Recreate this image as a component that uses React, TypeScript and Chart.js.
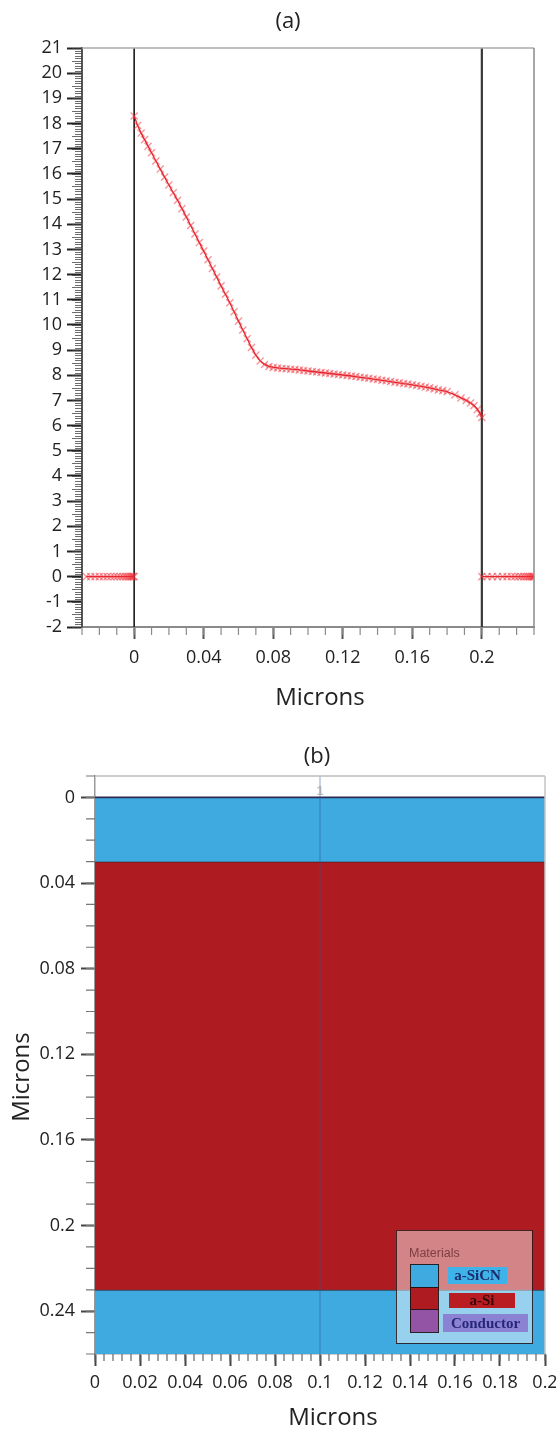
import React, { useEffect, useRef } from 'react';
import { Chart, registerables } from 'chart.js';

Chart.register(...registerables);

const FONT = "'Open Sans', 'Noto Sans', sans-serif";
const SERIF = "'Liberation Serif', 'DejaVu Serif', serif";
const SANS = "'Liberation Sans', Arial, sans-serif";

// ---------------- Panel (a) data ----------------
const A_TITLE = '(a)';
const A_X_TITLE = 'Microns';
const A_X_TICKS = [0, 0.04, 0.08, 0.12, 0.16, 0.2];
const A_Y_TICKS = [-2, -1, 0, 1, 2, 3, 4, 5, 6, 7, 8, 9, 10, 11, 12, 13, 14, 15, 16, 17, 18, 19, 20, 21];
const A_INTERFACES = [0, 0.2];
const A_LEFT_X = [-0.0275, -0.025, -0.0225, -0.02, -0.0177, -0.0155, -0.0135, -0.0115, -0.0097, -0.008, -0.0065, -0.0051, -0.0039, -0.0028, -0.0019, -0.0011, -0.0005, 0];
const A_LEFT_Y = [0, 0, 0, 0, 0, 0, 0, 0, 0, 0, 0, 0, 0, 0, 0, 0, 0, 0];
const A_RIGHT_X = [0.2, 0.203, 0.206, 0.209, 0.212, 0.2145, 0.217, 0.219, 0.221, 0.2225, 0.224, 0.2253, 0.2265, 0.2275, 0.2284, 0.2292, 0.2298, 0.23];
const A_RIGHT_Y = [0, 0, 0, 0, 0, 0, 0, 0, 0, 0, 0, 0, 0, 0, 0, 0, 0, 0];
// [x (microns), value]
const A_CURVE: [number, number][] = [
  [0, 18.3], [0.002, 17.92], [0.004, 17.62], [0.006, 17.36], [0.008, 17.1], [0.01, 16.84],
  [0.0125, 16.51], [0.015, 16.19], [0.0175, 15.87], [0.02, 15.56], [0.0225, 15.25], [0.025, 14.95],
  [0.0275, 14.62], [0.03, 14.29], [0.0325, 13.95], [0.035, 13.61], [0.0375, 13.27], [0.04, 12.93],
  [0.0425, 12.59], [0.045, 12.24], [0.0475, 11.9], [0.05, 11.55], [0.0525, 11.22], [0.055, 10.88],
  [0.0575, 10.52], [0.06, 10.15], [0.0625, 9.8], [0.065, 9.45], [0.0675, 9.1], [0.07, 8.8],
  [0.0725, 8.57], [0.075, 8.43], [0.0775, 8.35], [0.08, 8.31], [0.0825, 8.29], [0.085, 8.27],
  [0.0875, 8.26], [0.09, 8.24], [0.0925, 8.23], [0.095, 8.21], [0.0975, 8.19], [0.1, 8.17],
  [0.1025, 8.15], [0.105, 8.13], [0.1075, 8.11], [0.11, 8.09], [0.1125, 8.07], [0.115, 8.05],
  [0.1175, 8.03], [0.12, 8.01], [0.1225, 7.99], [0.125, 7.97], [0.1275, 7.95], [0.13, 7.92],
  [0.1325, 7.9], [0.135, 7.88], [0.1375, 7.85], [0.14, 7.83], [0.1425, 7.8], [0.145, 7.78],
  [0.1475, 7.75], [0.15, 7.72], [0.1525, 7.7], [0.155, 7.67], [0.1575, 7.65], [0.16, 7.62],
  [0.1625, 7.59], [0.165, 7.56], [0.1675, 7.53], [0.17, 7.5], [0.1725, 7.46], [0.175, 7.42],
  [0.1775, 7.39], [0.18, 7.35], [0.1845, 7.22], [0.188, 7.1], [0.191, 7.0], [0.1935, 6.9],
  [0.1955, 6.8], [0.1975, 6.64], [0.199, 6.48], [0.2, 6.32],
];

// ---------------- Panel (b) data ----------------
const B_TITLE = '(b)';
const B_AXIS_TITLE = 'Microns';
const B_X_TICKS = [0, 0.02, 0.04, 0.06, 0.08, 0.1, 0.12, 0.14, 0.16, 0.18, 0.2];
const B_Y_TICKS = [0, 0.04, 0.08, 0.12, 0.16, 0.2, 0.24];
const B_X_RANGE = [0, 0.2];
const B_BOUNDARIES = [0, 0.03, 0.23, 0.26];
const B_LAYERS = ['a-SiCN', 'a-Si', 'a-SiCN'];
const B_CUTLINE_X = 0.1;
const B_CUTLINE_LABEL = '1';
const MATERIALS = ['a-SiCN', 'a-Si', 'Conductor'];
const MATERIAL_COLORS = ['#3faae0', '#ae1c22', '#9354a6'];
const MATERIAL_LABEL_BG = ['#3db3ea', '#b91d22', '#8b82d3'];
const MATERIAL_LABEL_FG = ['#1b2d6b', '#3a0808', '#27277a'];
const LEGEND_TITLE = 'Materials';

const matColor = (m: string) => MATERIAL_COLORS[MATERIALS.indexOf(m)];

function pts(xs: number[], ys: number[]) {
  return xs.map((x, i) => ({ x, y: ys[i] }));
}

const markerDs = (data: { x: number; y: number }[]) => ({
  data,
  borderColor: 'rgba(226,22,30,0.95)',
  borderWidth: 1.3,
  pointStyle: 'crossRot',
  pointRadius: 5,
  pointBorderWidth: 1.4,
  pointBorderColor: 'rgba(240,45,55,0.5)',
  pointBackgroundColor: 'rgba(0,0,0,0)',
  fill: false,
  tension: 0,
});

function noEdgePadding(s: any) {
  s.paddingLeft = 0; s.paddingRight = 0; s.paddingTop = 0; s.paddingBottom = 0;
}

const aDecor = {
  id: 'aDecor',
  afterDraw(chart: any) {
    const { ctx, chartArea: ca, scales } = chart;
    const x = scales.x, y = scales.y;
    ctx.save();
    ctx.lineWidth = 1.5;
    ctx.strokeStyle = '#aaaaaa';
    ctx.beginPath(); ctx.moveTo(ca.left, ca.top); ctx.lineTo(ca.right, ca.top); ctx.stroke();
    ctx.strokeStyle = '#8a8a8a';
    ctx.beginPath(); ctx.moveTo(ca.right, ca.top); ctx.lineTo(ca.right, ca.bottom); ctx.stroke();
    // minor x ticks
    ctx.strokeStyle = '#8a8a8a'; ctx.lineWidth = 1.2;
    ctx.beginPath();
    for (let k = -3; k <= 23; k++) {
      const px = x.getPixelForValue(k / 100);
      ctx.moveTo(px, ca.bottom); ctx.lineTo(px, ca.bottom + 8);
    }
    ctx.stroke();
    // dense minor y ticks
    ctx.strokeStyle = 'rgba(60,60,60,0.75)'; ctx.lineWidth = 1;
    ctx.beginPath();
    for (let k = -20; k <= 210; k++) {
      const py = Math.round(y.getPixelForValue(k / 10)) + 0.5;
      const len = k % 5 === 0 ? 10 : 7;
      ctx.moveTo(ca.left - len, py); ctx.lineTo(ca.left, py);
    }
    ctx.stroke();
    // titles
    ctx.fillStyle = '#222';
    ctx.textAlign = 'center'; ctx.textBaseline = 'middle';
    ctx.font = `22px ${FONT}`;
    ctx.fillText(A_TITLE, 288, 22);
    ctx.font = `24px ${FONT}`;
    ctx.fillText(A_X_TITLE, 320, 698);
    ctx.restore();
  },
};

const bDecor = {
  id: 'bDecor',
  afterDraw(chart: any) {
    const { ctx, chartArea: ca, scales } = chart;
    const x = scales.x, y = scales.y;
    ctx.save();
    ctx.lineWidth = 1.5;
    ctx.strokeStyle = '#bbbbbb';
    ctx.beginPath(); ctx.moveTo(ca.left, ca.top); ctx.lineTo(ca.right, ca.top); ctx.stroke();
    ctx.strokeStyle = '#c4c4c4';
    ctx.beginPath(); ctx.moveTo(ca.right, ca.top); ctx.lineTo(ca.right, ca.bottom); ctx.stroke();
    // minor x ticks
    ctx.strokeStyle = '#666'; ctx.lineWidth = 1.2;
    ctx.beginPath();
    for (let k = 0; k <= 50; k++) {
      const px = x.getPixelForValue(k * 0.004);
      ctx.moveTo(px, ca.bottom); ctx.lineTo(px, ca.bottom + 7);
    }
    ctx.stroke();
    // minor y ticks
    ctx.strokeStyle = '#777'; ctx.lineWidth = 1.2;
    ctx.beginPath();
    for (let k = -1; k <= 26; k++) {
      const py = y.getPixelForValue(k / 100);
      ctx.moveTo(ca.left - 9, py); ctx.lineTo(ca.left, py);
    }
    ctx.stroke();
    // cut-line label
    ctx.fillStyle = 'rgba(150,150,150,0.6)';
    ctx.font = `bold 13px ${SANS}`;
    ctx.textAlign = 'center'; ctx.textBaseline = 'middle';
    ctx.fillText(B_CUTLINE_LABEL, x.getPixelForValue(B_CUTLINE_X), y.getPixelForValue(-0.003));
    // legend
    const L = ca.right - 149, T = ca.bottom - 124, W = 136, H = 113;
    ctx.fillStyle = 'rgba(255,255,255,0.46)';
    ctx.fillRect(L, T, W, H);
    ctx.strokeStyle = 'rgba(40,20,20,0.85)'; ctx.lineWidth = 1;
    ctx.strokeRect(L + 0.5, T + 0.5, W, H);
    ctx.fillStyle = 'rgba(110,50,50,0.85)';
    ctx.font = `12.5px ${SANS}`;
    ctx.textAlign = 'left';
    ctx.fillText(LEGEND_TITLE, L + 13, T + 24);
    const sw = [[34, 57], [57, 79], [79, 102]];
    const boxes = [[52, 37, 59, 17], [53, 63, 66, 15], [47, 84, 85, 18]];
    MATERIALS.forEach((m, i) => {
      ctx.fillStyle = MATERIAL_COLORS[i];
      ctx.fillRect(L + 14, T + sw[i][0], 28, sw[i][1] - sw[i][0]);
      ctx.strokeStyle = 'rgba(30,15,15,0.9)';
      ctx.strokeRect(L + 14.5, T + sw[i][0] + 0.5, 28, sw[i][1] - sw[i][0]);
      const [bx, by, bw, bh] = boxes[i];
      ctx.fillStyle = MATERIAL_LABEL_BG[i];
      ctx.fillRect(L + bx, T + by, bw, bh);
      ctx.fillStyle = MATERIAL_LABEL_FG[i];
      ctx.font = `bold 15px ${SERIF}`;
      ctx.textAlign = 'center';
      ctx.fillText(m, L + bx + bw / 2, T + by + bh / 2 + 1);
    });
    // titles
    ctx.fillStyle = '#222';
    ctx.textAlign = 'center'; ctx.textBaseline = 'middle';
    ctx.font = `22px ${FONT}`;
    ctx.fillText(B_TITLE, 317, 37);
    ctx.font = `24px ${FONT}`;
    ctx.fillText(B_AXIS_TITLE, 333, 698);
    ctx.translate(22, 357);
    ctx.rotate(-Math.PI / 2);
    ctx.fillText(B_AXIS_TITLE, 0, 0);
    ctx.restore();
  },
};

function makeA(canvas: HTMLCanvasElement) {
  const datasets: any[] = [
    markerDs(A_CURVE.map(([x, y]) => ({ x, y }))),
    markerDs(pts(A_LEFT_X, A_LEFT_Y)),
    markerDs(pts(A_RIGHT_X, A_RIGHT_Y)),
    ...A_INTERFACES.map((v, i) => ({
      data: [{ x: v, y: A_Y_TICKS[0] }, { x: v, y: A_Y_TICKS[A_Y_TICKS.length - 1] }],
      borderColor: i === 0 ? '#1a1a1a' : '#383838',
      borderWidth: i === 0 ? 1.6 : 2.2,
      pointRadius: 0,
      fill: false,
    })),
  ];
  return new Chart(canvas, {
    type: 'line',
    data: { datasets },
    options: {
      responsive: false,
      animation: false,
      devicePixelRatio: 1,
      events: [],
      layout: { padding: { top: 48, right: 22, left: 0, bottom: 0 } },
      plugins: { legend: { display: false }, tooltip: { enabled: false } },
      scales: {
        x: {
          type: 'linear',
          min: -0.03,
          max: 0.23,
          afterBuildTicks: (s: any) => { s.ticks = A_X_TICKS.map((v) => ({ value: v })); },
          afterFit: (s: any) => { s.height = 93; noEdgePadding(s); },
          ticks: {
            autoSkip: false, maxRotation: 0, minRotation: 0, padding: 8,
            color: '#222', font: { family: FONT, size: 18 },
            callback: (v: any) => String(v),
          },
          grid: { display: true, drawOnChartArea: false, drawTicks: true, tickLength: 12, tickColor: '#555', tickWidth: 2 },
          border: { display: true, color: '#8a8a8a', width: 2 },
        },
        y: {
          type: 'linear',
          min: -2,
          max: 21,
          afterBuildTicks: (s: any) => { s.ticks = A_Y_TICKS.map((v) => ({ value: v })); },
          afterFit: (s: any) => { s.width = 82; noEdgePadding(s); },
          ticks: {
            autoSkip: false, padding: 5, color: '#222', font: { family: FONT, size: 18 },
            callback: (v: any) => String(v),
          },
          grid: { display: true, drawOnChartArea: false, drawTicks: true, tickLength: 15, tickColor: '#222', tickWidth: 2 },
          border: { display: true, color: '#555', width: 2 },
        },
      },
    } as any,
    plugins: [aDecor],
  });
}

function makeB(canvas: HTMLCanvasElement) {
  const datasets: any[] = B_BOUNDARIES.map((b, i) => ({
    data: B_X_RANGE.map((x) => ({ x, y: b })),
    fill: i < B_LAYERS.length ? '+1' : false,
    backgroundColor: i < B_LAYERS.length ? matColor(B_LAYERS[i]) : 'rgba(0,0,0,0)',
    borderColor: i === 0 ? '#2b2b55' : i === B_BOUNDARIES.length - 1 ? 'rgba(0,0,0,0)' : '#2a1212',
    borderWidth: i === 0 ? 1.6 : 1.2,
    pointRadius: 0,
  }));
  datasets.push({
    data: [{ x: B_CUTLINE_X, y: -0.01 }, { x: B_CUTLINE_X, y: 0.26 }],
    borderColor: 'rgba(45,85,150,0.35)',
    borderWidth: 1.5,
    pointRadius: 0,
    fill: false,
    order: -1,
  });
  return new Chart(canvas, {
    type: 'line',
    data: { datasets },
    options: {
      responsive: false,
      animation: false,
      devicePixelRatio: 1,
      events: [],
      layout: { padding: { top: 56, right: 11, left: 0, bottom: 0 } },
      plugins: { legend: { display: false }, tooltip: { enabled: false } },
      scales: {
        x: {
          type: 'linear',
          min: 0,
          max: 0.2,
          afterBuildTicks: (s: any) => { s.ticks = B_X_TICKS.map((v) => ({ value: v })); },
          afterFit: (s: any) => { s.height = 80; noEdgePadding(s); },
          ticks: {
            autoSkip: false, maxRotation: 0, minRotation: 0, padding: 6,
            color: '#222', font: { family: FONT, size: 18 },
            callback: (v: any) => String(v),
          },
          grid: { display: true, drawOnChartArea: false, drawTicks: true, tickLength: 12, tickColor: '#444', tickWidth: 2 },
          border: { display: true, color: '#999', width: 1.5 },
        },
        y: {
          type: 'linear',
          min: -0.01,
          max: 0.26,
          reverse: true,
          afterBuildTicks: (s: any) => { s.ticks = B_Y_TICKS.map((v) => ({ value: v })); },
          afterFit: (s: any) => { s.width = 95; noEdgePadding(s); },
          ticks: {
            autoSkip: false, padding: 6, color: '#222', font: { family: FONT, size: 18 },
            callback: (v: any) => String(v),
          },
          grid: { display: true, drawOnChartArea: false, drawTicks: true, tickLength: 14, tickColor: '#444', tickWidth: 2 },
          border: { display: true, color: '#999', width: 1.5 },
        },
      },
    } as any,
    plugins: [bDecor],
  });
}

export default function App() {
  const refA = useRef<HTMLCanvasElement>(null);
  const refB = useRef<HTMLCanvasElement>(null);
  useEffect(() => {
    const a = makeA(refA.current!);
    const b = makeB(refB.current!);
    return () => { a.destroy(); b.destroy(); };
  }, []);
  return (
    <div style={{ position: 'absolute', left: 0, top: 0, width: 556, height: 1434, background: '#fff' }}>
      <canvas ref={refA} width={556} height={720} style={{ position: 'absolute', left: 0, top: 0 }} />
      <canvas ref={refB} width={556} height={714} style={{ position: 'absolute', left: 0, top: 720 }} />
    </div>
  );
}
